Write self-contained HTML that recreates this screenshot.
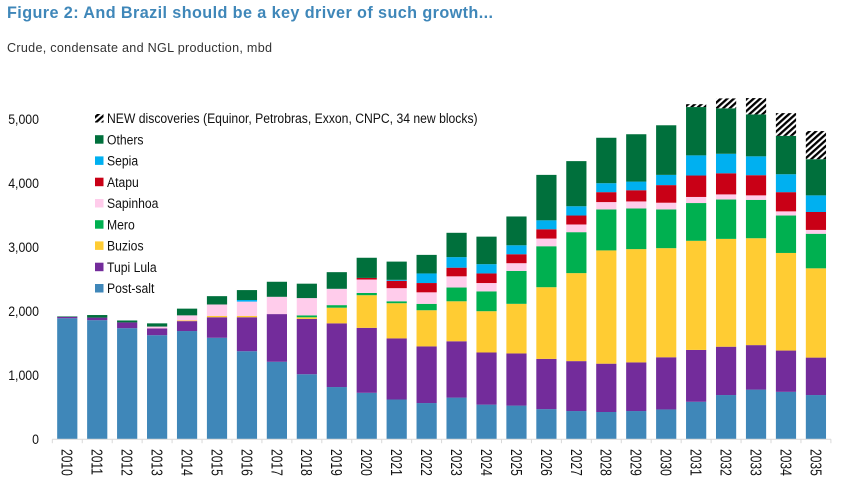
<!DOCTYPE html>
<html lang="en">
<head>
<meta charset="utf-8">
<title>Figure 2</title>
<style>
html,body{margin:0;padding:0;background:#fff;}
body{width:846px;height:503px;overflow:hidden;}
svg{display:block;filter:blur(.3px);}
text{font-family:"Liberation Sans",Arial,sans-serif;}
</style>
</head>
<body>
<svg id="chart" width="846" height="503" viewBox="0 0 846 503" xmlns="http://www.w3.org/2000/svg">
  <defs>
    <pattern id="hatch" width="4.4" height="4.4" patternUnits="userSpaceOnUse" patternTransform="rotate(48)">
      <rect width="4.4" height="4.4" fill="#fff"></rect>
      <rect width="2.3" height="4.4" fill="#000"></rect>
    </pattern>
  </defs>
  <text x="7" y="18" font-size="16.2" font-weight="bold" fill="#3f87b9" textLength="486" lengthAdjust="spacing">Figure 2: And Brazil should be a key driver of such growth...</text>
  <text x="7" y="52" font-size="12.6" fill="#333" textLength="265" lengthAdjust="spacing">Crude, condensate and NGL production, mbd</text>

  <g id="bars"></g>
  <g id="x-axis"></g>
  <g id="y-axis"></g>

  <g font-size="14" fill="#111">
    <g>
      <rect x="95" y="114" width="8.5" height="8.5" fill="url(#hatch)"></rect>
      <text transform="translate(107,123) scale(.87,1)">NEW discoveries (Equinor, Petrobras, Exxon, CNPC, 34 new blocks)</text>
    </g>
    <g>
      <rect x="95" y="135.2" width="8.5" height="8.5" fill="#00703c"></rect>
      <text transform="translate(107,144.3) scale(.87,1)">Others</text>
    </g>
    <g>
      <rect x="95" y="156.4" width="8.5" height="8.5" fill="#00b0f0"></rect>
      <text transform="translate(107,165.5) scale(.87,1)">Sepia</text>
    </g>
    <g>
      <rect x="95" y="177.7" width="8.5" height="8.5" fill="#c90016"></rect>
      <text transform="translate(107,186.8) scale(.87,1)">Atapu</text>
    </g>
    <g>
      <rect x="95" y="199" width="8.5" height="8.5" fill="#ffcceb"></rect>
      <text transform="translate(107,208) scale(.87,1)">Sapinhoa</text>
    </g>
    <g>
      <rect x="95" y="220.2" width="8.5" height="8.5" fill="#00b050"></rect>
      <text transform="translate(107,229.3) scale(.87,1)">Mero</text>
    </g>
    <g>
      <rect x="95" y="241.4" width="8.5" height="8.5" fill="#ffcc33"></rect>
      <text transform="translate(107,250.5) scale(.87,1)">Buzios</text>
    </g>
    <g>
      <rect x="95" y="262.7" width="8.5" height="8.5" fill="#732c9b"></rect>
      <text transform="translate(107,271.8) scale(.87,1)">Tupi Lula</text>
    </g>
    <g>
      <rect x="95" y="284" width="8.5" height="8.5" fill="#3f87b9"></rect>
      <text transform="translate(107,293) scale(.87,1)">Post-salt</text>
    </g>
  </g>
</svg>
<script>
var years = [2010,2011,2012,2013,2014,2015,2016,2017,2018,2019,2020,2021,2022,2023,2024,2025,2026,2027,2028,2029,2030,2031,2032,2033,2034,2035];
var yTicks = [0,1000,2000,3000,4000,5000];

var postSalt = [1890,1860,1735,1625,1690,1585,1375,1210,1015,815,725,620,565,650,540,525,470,440,425,440,465,585,690,775,740,690];
var tupiLula = [20,40,90,105,155,320,530,745,865,995,1015,955,885,880,815,815,785,780,755,760,815,810,755,695,645,585];
var buzios = [0,0,0,0,10,20,20,0,25,245,510,550,565,625,645,775,1120,1375,1770,1770,1705,1705,1685,1670,1525,1395];
var mero = [0,0,0,0,0,0,0,0,30,40,35,30,100,215,310,515,640,640,640,635,605,590,615,600,585,540];
var sapinhoa = [3,0,0,30,80,180,225,270,270,255,210,205,180,175,130,120,120,120,115,110,105,95,80,70,65,60];
var atapu = [0,0,0,0,0,0,0,0,0,0,25,115,145,135,150,140,145,140,155,175,275,335,330,315,300,280];
var sepia = [0,0,0,0,0,0,25,0,0,0,0,15,150,165,145,140,140,145,140,135,160,315,305,295,280,260];
var others = [8,40,30,50,105,130,155,235,225,260,315,285,290,380,430,450,710,705,710,740,775,755,710,655,600,565];
var newDiscoveries = [0,0,0,0,0,0,0,0,0,0,0,0,0,0,0,0,0,0,0,0,0,45,155,255,355,440];

var seriesNames = ['post-salt','tupi-lula','buzios','mero','sapinhoa','atapu','sepia','others','new-discoveries'];
var seriesValues = [postSalt,tupiLula,buzios,mero,sapinhoa,atapu,sepia,others,newDiscoveries];
var seriesColors = ['#3f87b9','#732c9b','#ffcc33','#00b050','#ffcceb','#c90016','#00b0f0','#00703c','url(#hatch)'];

var NS = 'http://www.w3.org/2000/svg';
var plotLeft = 52.3, plotRight = 830.9, baseY = 439.2, pxPerUnit = 0.064;
var step = (plotRight - plotLeft) / years.length;
var barW = 20.2;

function xLeft(i){ return plotLeft + step * i; }
function xCenter(i){ return xLeft(i) + step / 2; }
function yPos(v){ return baseY - v * pxPerUnit; }
function make(tag, parent){
  var el = document.createElementNS(NS, tag);
  parent.appendChild(el);
  return el;
}

var barsG = document.getElementById('bars');
years.forEach(function(year, i){
  var cum = 0;
  seriesValues.forEach(function(vals, s){
    var v = vals[i];
    if (!v) return;
    var rect = make('rect', barsG);
    
    
    rect.setAttribute('x', xCenter(i) - barW / 2);
    rect.setAttribute('y', yPos(cum + v));
    rect.setAttribute('width', barW);
    rect.setAttribute('height', v * pxPerUnit);
    rect.setAttribute('fill', seriesColors[s]);
    cum += v;
  });
});

var xG = document.getElementById('x-axis');
var axisLine = make('line', xG);


axisLine.setAttribute('x1', plotLeft);
axisLine.setAttribute('x2', plotRight);
axisLine.setAttribute('y1', baseY);
axisLine.setAttribute('y2', baseY);
axisLine.setAttribute('stroke', '#d9d9d9');
axisLine.setAttribute('stroke-width', '1');

for (var t = 0; t <= years.length; t++) {
  var tick = make('line', xG);
  
  
  tick.setAttribute('x1', xLeft(t));
  tick.setAttribute('x2', xLeft(t));
  tick.setAttribute('y1', baseY);
  tick.setAttribute('y2', baseY + 4);
  tick.setAttribute('stroke', '#d9d9d9');
  tick.setAttribute('stroke-width', '1');
}

years.forEach(function(year, i){
  var label = make('text', xG);
  
  
  label.setAttribute('font-size', '15.5');
  label.setAttribute('fill', '#111');
  label.setAttribute('transform', 'translate(' + (xCenter(i) - 5.6) + ',449) rotate(90) scale(.78,1)');
  label.textContent = year;
});

var yG = document.getElementById('y-axis');
yTicks.forEach(function(v){
  var label = make('text', yG);
  
  
  label.setAttribute('font-size', '14');
  label.setAttribute('fill', '#111');
  label.setAttribute('text-anchor', 'end');
  label.setAttribute('transform', 'translate(39,' + (yPos(v) + 5) + ') scale(.88,1)');
  label.textContent = v.toLocaleString('en-US');
});
</script>
</body>
</html>
